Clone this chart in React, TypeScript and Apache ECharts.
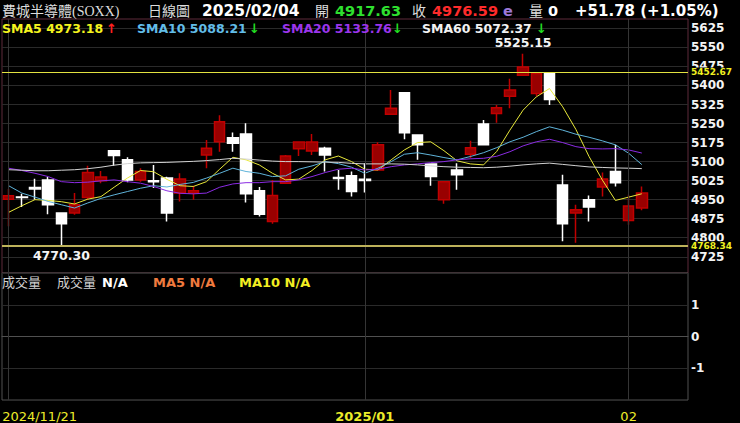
import React, { useEffect, useRef } from "react";
import * as echarts from "echarts";

// Daily bars, Philadelphia Semiconductor index
const dates = [
  "2024/11/21", "2024/11/22", "2024/11/25", "2024/11/26", "2024/11/27", "2024/11/29",
  "2024/12/02", "2024/12/03", "2024/12/04", "2024/12/05", "2024/12/06",
  "2024/12/09", "2024/12/10", "2024/12/11", "2024/12/12", "2024/12/13",
  "2024/12/16", "2024/12/17", "2024/12/18", "2024/12/19", "2024/12/20",
  "2024/12/23", "2024/12/24", "2024/12/26", "2024/12/27",
  "2024/12/30", "2024/12/31",
  "2025/01/02", "2025/01/03",
  "2025/01/06", "2025/01/07", "2025/01/08", "2025/01/10",
  "2025/01/13", "2025/01/14", "2025/01/15", "2025/01/16", "2025/01/17",
  "2025/01/21", "2025/01/22", "2025/01/23", "2025/01/24",
  "2025/01/27", "2025/01/28", "2025/01/29", "2025/01/30", "2025/01/31",
  "2025/02/03", "2025/02/04",
];

const opens = [
  4952, 4961, 4998, 5028, 4897, 4897,
  4959, 5025, 5143, 5107, 5028,
  5025, 5035, 4976, 4976, 5126,
  5178, 5194, 5209, 4985, 4864,
  5015, 5151, 5142, 5153,
  5037, 5044,
  5030, 5067,
  5287, 5371, 5205, 5091,
  4950, 5067, 5129, 5248, 5290,
  5358, 5440, 5368, 5449,
  5008, 4897, 4950, 5000, 5061,
  4868, 4917.63,
];

const closes = [
  4965, 4959, 4992, 4930, 4855, 4930,
  5057, 5039, 5124, 5028, 5061,
  5021, 4897, 5031, 4985, 5153,
  5257, 5172, 4973, 4893, 4966,
  5122, 5177, 5177, 5126,
  5033, 4982,
  5026, 5166,
  5310, 5214, 5166, 5041,
  5021, 5048, 5155, 5166, 5312,
  5382, 5473, 5447, 5345,
  4855, 4910, 4921, 5031, 5017,
  4924.81, 4976.59,
];

const lows = [
  4845, 4921, 4950, 4893, 4770.3, 4891,
  4950, 5015, 5084, 5019, 5021,
  4996, 4864, 4943, 4950, 5074,
  5139, 5139, 4939, 4884, 4855,
  5013, 5122, 5126, 5061,
  4989, 4962,
  4978, 5065,
  5287, 5188, 5107, 5005,
  4934, 4989, 5113, 5164, 5253,
  5310, 5437, 5358, 5323,
  4786, 4780, 4864, 4962, 5002,
  4851, 4908,
];

const highs = [
  4992, 4973, 5032, 5039, 4900, 4976,
  5084, 5063, 5146, 5117, 5074,
  5087, 5040, 5054, 5005, 5185,
  5283, 5215, 5251, 5000, 5028,
  5126, 5180, 5209, 5159,
  5067, 5061,
  5094, 5176,
  5382, 5373, 5208, 5094,
  5024, 5094, 5182, 5264, 5323,
  5427, 5525.15, 5450, 5453,
  5048, 4930, 4966, 5057, 5166,
  4969, 5002,
];

const sma5 = [
  4900, 4926, 4950, 4947, 4942, 4933,
  4952, 4962, 4999, 5035, 5065,
  5060, 5030, 5005, 5002, 5021,
  5070, 5117, 5107, 5087, 5054,
  5028, 5031, 5065, 5107,
  5122, 5100,
  5070, 5067,
  5107, 5146, 5175, 5178,
  5143, 5103, 5091, 5087, 5140,
  5224, 5303, 5355, 5388,
  5316, 5227, 5120, 5028, 4947,
  4960, 4973.18,
];

const sma10 = [
  5005, 4976, 4960, 4943, 4930, 4917,
  4937, 4955, 4969, 4982, 4995,
  5005, 5000, 5010, 5018, 5035,
  5054, 5074, 5061, 5054, 5041,
  5044, 5070, 5083, 5100,
  5092, 5078,
  5054, 5074,
  5100, 5129, 5135, 5126,
  5116, 5107, 5120, 5135, 5155,
  5178, 5196, 5218, 5237,
  5224, 5208, 5196, 5182, 5166,
  5133, 5088.21,
];

const sma20 = [
  5074, 5065, 5054, 5041, 5021, 5017,
  5019, 5024, 5028, 5021, 5015,
  5002, 4985, 4975, 4973, 4976,
  4999, 5012, 5017, 5017, 5021,
  5021, 5028, 5041, 5057,
  5070, 5074,
  5067, 5070,
  5080, 5087, 5091, 5096,
  5100, 5107, 5111, 5113, 5121,
  5139, 5162, 5178, 5188,
  5175, 5159, 5151, 5150, 5151,
  5146, 5133.76,
];

const sma60 = [
  5068, 5066, 5064, 5064, 5066, 5068,
  5072, 5078, 5086, 5092, 5095,
  5096, 5097, 5099, 5101, 5104,
  5108, 5113, 5110, 5106, 5102,
  5100, 5100, 5099, 5098,
  5097, 5093,
  5091, 5091,
  5091, 5090, 5087, 5083,
  5080, 5078, 5077, 5076, 5078,
  5082, 5087, 5091, 5094,
  5089, 5084, 5079, 5077, 5075,
  5074, 5072.37,
];

const priceTicks = [4725, 4800, 4875, 4950, 5025, 5100, 5175, 5250, 5325, 5400, 5475, 5550, 5625];
const volumeTicks = [-1, 0, 1];
const refLevels = [5452.67, 4768.34];
const dateMarkIndexes = [0, 27, 47];
const dateMarkLabels = ["2024/11/21", "2025/01", "02"];
const emptySlots = ["_1", "_2", "_3"];

const BOLD = "'DejaVu Sans', Verdana, sans-serif";
const SERIF = "'Liberation Serif', 'DejaVu Serif', 'Noto Sans CJK TC', serif";

type Seg = { text: string; x: number; y: number; color: string; bold?: boolean; size?: number; serif?: boolean };

function textEl(s: Seg) {
  return {
    type: "text",
    x: s.x,
    y: s.y,
    silent: true,
    z: 100,
    style: {
      text: s.text,
      fill: s.color,
      fontSize: s.size ?? 13,
      fontWeight: s.bold ? "bold" : "normal",
      fontFamily: s.serif ? SERIF : BOLD,
      verticalAlign: "middle",
      align: "left",
    },
  };
}

export default function App() {
  const ref = useRef<HTMLDivElement>(null);

  useEffect(() => {
    document.body.style.margin = "0";
    document.body.style.background = "#000";
    const chart = echarts.init(ref.current!, null, { renderer: "svg" });

    const n = dates.length;
    const cats = [...dates, ...emptySlots];
    const candles = opens.map((o, i) => [o, closes[i], lows[i], highs[i]]);
    const lowVal = Math.min(...lows);
    const highVal = Math.max(...highs);
    const lowIdx = lows.indexOf(lowVal);
    const highIdx = highs.indexOf(highVal);

    const lastOpen = opens[n - 1];
    const lastClose = closes[n - 1];
    const prevClose = closes[n - 2];
    const change = lastClose - prevClose;
    const pct = (change / prevClose) * 100;
    const sign = (v: number) => (v >= 0 ? "+" : "-");

    const maDefs = [
      { name: "SMA5", data: sma5, color: "#e8e83a", text: "#f4f41e", x: 2, ax: 106 },
      { name: "SMA10", data: sma10, color: "#5fb3d9", text: "#62bde8", x: 137, ax: 249 },
      { name: "SMA20", data: sma20, color: "#8a2be2", text: "#9b35ec", x: 282, ax: 392 },
      { name: "SMA60", data: sma60, color: "#d2d2d2", text: "#f2f2f2", x: 422, ax: 536 },
    ];

    const header: Seg[] = [
      { text: "費城半導體(SOXX)", x: 2, y: 11, color: "#dcdcdc", serif: true, size: 14 },
      { text: "日線圖", x: 148, y: 11, color: "#dcdcdc", serif: true, size: 14 },
      { text: dates[n - 1], x: 202, y: 11, color: "#ffffff", bold: true, size: 15.5 },
      { text: "開", x: 315, y: 11, color: "#dcdcdc", serif: true, size: 14 },
      { text: lastOpen.toFixed(2), x: 335, y: 11, color: "#2fe02f", bold: true, size: 14.5 },
      { text: "收", x: 412, y: 11, color: "#dcdcdc", serif: true, size: 14 },
      { text: lastClose.toFixed(2), x: 432, y: 11, color: "#ff2b2b", bold: true, size: 14.5 },
      { text: "e", x: 503, y: 11, color: "#9c78d8", bold: true, size: 14.5 },
      { text: "量", x: 529, y: 11, color: "#dcdcdc", serif: true, size: 14 },
      { text: "0", x: 548, y: 11, color: "#ffffff", bold: true, size: 14.5 },
      {
        text: `${sign(change)}${Math.abs(change).toFixed(2)} (${sign(pct)}${Math.abs(pct).toFixed(2)}%)`,
        x: 575, y: 11, color: "#ffffff", bold: true, size: 15,
      },
    ];
    maDefs.forEach((m) => {
      const last = m.data[n - 1];
      const prev = m.data[n - 2];
      header.push({ text: `${m.name} ${last.toFixed(2)}`, x: m.x, y: 28, color: m.text, bold: true, size: 12.5 });
      header.push({
        text: last >= prev ? "↑" : "↓",
        x: m.ax, y: 28, color: last >= prev ? "#ff2020" : "#22dd22", bold: true, size: 13,
      });
    });
    header.push(
      { text: "成交量", x: 2, y: 282, color: "#d0d0d0", serif: true, size: 13 },
      { text: "成交量", x: 57, y: 282, color: "#d0d0d0", serif: true, size: 13 },
      { text: "N/A", x: 102, y: 282, color: "#ffffff", bold: true, size: 13 },
      { text: "MA5 N/A", x: 153, y: 282, color: "#f07a3e", bold: true, size: 13 },
      { text: "MA10 N/A", x: 239, y: 282, color: "#f2ee22", bold: true, size: 13 },
    );

    const dateLines = dateMarkIndexes.map((i) => ({
      xAxis: i,
      lineStyle: { color: "#353535", width: 1, type: "solid" },
      label: { show: false },
    }));

    const isMark = (index: number) => dateMarkIndexes.includes(index);

    const option: any = {
      animation: false,
      backgroundColor: "#000000",
      graphic: header.map(textEl),
      grid: [
        {
          left: 2, right: 52, top: 19, height: 254, show: true,
          borderColor: "#5e2b3b", borderWidth: 1, outerBoundsMode: "none", containLabel: false,
        },
        {
          left: 2, right: 52, top: 273, height: 127, show: true,
          borderColor: "#505050", borderWidth: 1, outerBoundsMode: "none", containLabel: false,
        },
      ],
      xAxis: [
        {
          type: "category",
          gridIndex: 0,
          data: cats,
          axisLine: { show: false },
          axisTick: { show: false },
          axisLabel: { show: false },
          splitLine: { show: false },
        },
        {
          type: "category",
          gridIndex: 1,
          data: cats,
          axisLine: { show: true, lineStyle: { color: "#505050", width: 1 } },
          axisTick: {
            show: true,
            alignWithLabel: true,
            interval: (index: number) => isMark(index),
            length: 7,
            lineStyle: { color: "#c0c040", width: 1 },
          },
          axisLabel: {
            interval: (index: number) => isMark(index),
            margin: 10,
            color: "#ecec2a",
            fontSize: 13,
            fontFamily: BOLD,
            hideOverlap: false,
            formatter: (_v: string, index: number) => {
              const k = dateMarkIndexes.indexOf(index);
              if (k < 0) return "";
              if (k === 0) return `{pad|}{n|${dateMarkLabels[k]}}`;
              if (dateMarkLabels[k].includes("/")) return `{b|${dateMarkLabels[k]}}`;
              return `{n|${dateMarkLabels[k]}}`;
            },
            rich: {
              pad: { width: 62 },
              n: { color: "#ecec2a", fontSize: 13, fontFamily: BOLD },
              b: { color: "#ecec2a", fontSize: 13, fontFamily: BOLD, fontWeight: "bold" },
            },
          },
          splitLine: { show: false },
        },
      ],
      yAxis: [
        {
          type: "value",
          gridIndex: 0,
          position: "right",
          min: 4661,
          max: 5662,
          axisLine: { show: false },
          axisTick: { show: false, customValues: priceTicks },
          axisLabel: {
            customValues: priceTicks,
            color: "#f4f4f4",
            fontWeight: "bold",
            fontSize: 12,
            fontFamily: BOLD,
            margin: 3,
            formatter: (v: number) => String(v),
          },
          splitLine: { show: true, lineStyle: { color: "#2a2a2a", width: 1 } },
        },
        {
          type: "value",
          gridIndex: 1,
          position: "right",
          min: -2,
          max: 2,
          interval: 1,
          axisLine: { show: false },
          axisTick: { show: false },
          axisLabel: {
            color: "#f4f4f4",
            fontWeight: "bold",
            fontSize: 12,
            fontFamily: BOLD,
            margin: 3,
            showMinLabel: false,
            showMaxLabel: false,
            formatter: (v: number) => (volumeTicks.includes(v) ? String(v) : ""),
          },
          splitLine: { show: true, lineStyle: { color: "#2a2a2a", width: 1 } },
        },
      ],
      series: [
        {
          type: "candlestick",
          xAxisIndex: 0,
          yAxisIndex: 0,
          barWidth: 11,
          data: candles,
          itemStyle: {
            color: "#990000",
            borderColor: "#c00000",
            color0: "#ffffff",
            borderColor0: "#ffffff",
            borderWidth: 1.5,
          },
          markLine: {
            silent: true,
            symbol: ["none", "none"],
            animation: false,
            data: [
              ...dateLines,
              ...refLevels.map((v, k) => ({
                yAxis: v,
                lineStyle: { color: k === 0 ? "#e2e240" : "#bdb25a", width: k === 0 ? 1 : 2, type: "solid" },
                label: {
                  show: true,
                  position: "end",
                  distance: 2,
                  formatter: v.toFixed(2),
                  color: "#f0f020",
                  fontSize: 9,
                  fontWeight: "bold",
                  fontFamily: BOLD,
                  backgroundColor: "#000000",
                  padding: [0, 1, 0, 1],
                },
              })),
            ],
          },
          markPoint: {
            silent: true,
            animation: false,
            symbol: "circle",
            symbolSize: 1,
            itemStyle: { color: "rgba(0,0,0,0)" },
            data: [
              {
                coord: [lowIdx, lowVal],
                value: lowVal,
                label: {
                  show: true, position: "bottom", distance: 3, formatter: lowVal.toFixed(2),
                  color: "#f4f4f4", fontWeight: "bold", fontSize: 12.5, fontFamily: BOLD,
                },
              },
              {
                coord: [highIdx, highVal],
                value: highVal,
                label: {
                  show: true, position: "top", distance: 4, formatter: highVal.toFixed(2),
                  color: "#f4f4f4", fontWeight: "bold", fontSize: 12.5, fontFamily: BOLD,
                },
              },
            ],
          },
        },
        ...maDefs.map((m) => ({
          type: "line",
          name: m.name,
          xAxisIndex: 0,
          yAxisIndex: 0,
          data: m.data,
          showSymbol: false,
          symbol: "none",
          silent: true,
          lineStyle: { color: m.color, width: 1 },
          z: 3,
        })),
        {
          type: "line",
          xAxisIndex: 1,
          yAxisIndex: 1,
          data: cats.map(() => null),
          showSymbol: false,
          symbol: "none",
          silent: true,
          markLine: {
            silent: true,
            symbol: ["none", "none"],
            animation: false,
            data: dateLines,
          },
        },
      ],
    };

    chart.setOption(option);
    return () => chart.dispose();
  }, []);

  return <div ref={ref} style={{ width: 740, height: 423, background: "#000" }} />;
}
